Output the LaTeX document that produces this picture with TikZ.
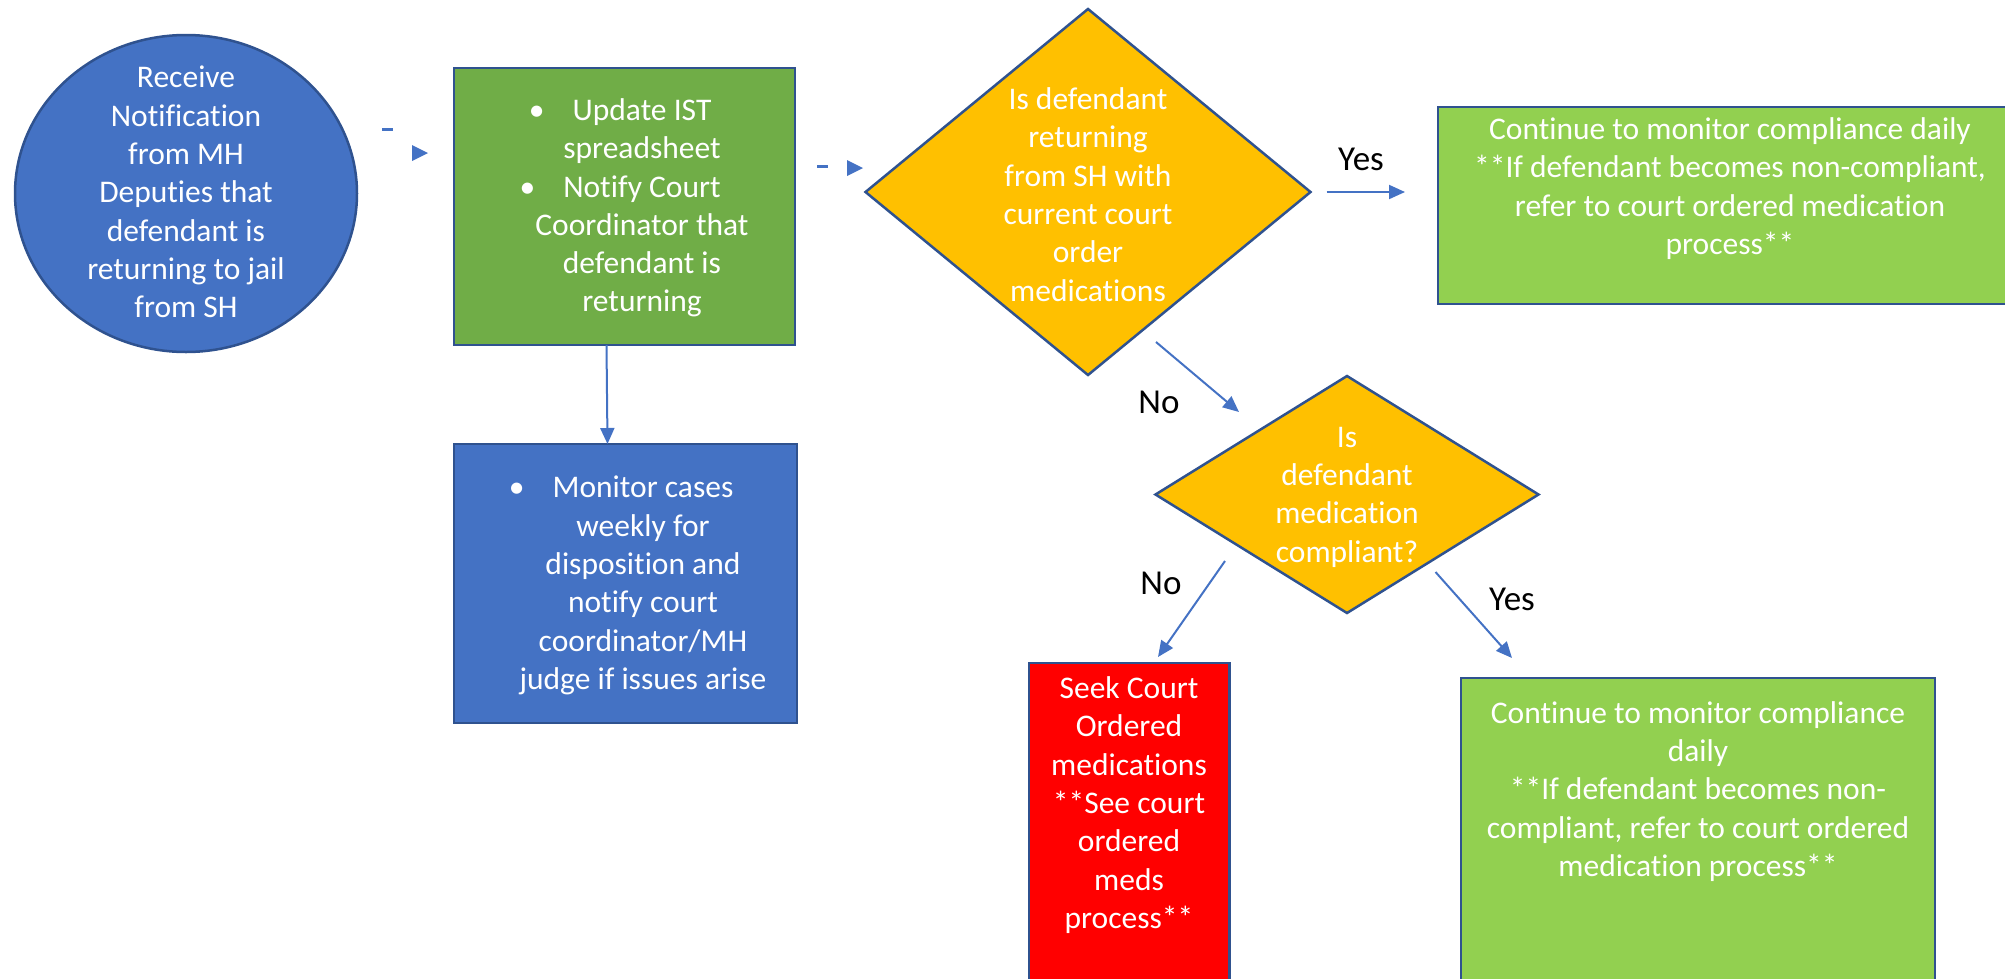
\documentclass[tikz,border=0pt]{standalone}
\usepackage{fontspec}
\setmainfont{Carlito}[Ligatures={NoCommon,NoContextual}]
\usetikzlibrary{shapes.geometric,arrows.meta}
\definecolor{cblue}{HTML}{4472C4}
\definecolor{cborder}{HTML}{2F528F}
\definecolor{cgreen}{HTML}{70AD47}
\definecolor{clime}{HTML}{92D050}
\definecolor{cgold}{HTML}{FFC000}
\definecolor{cred}{HTML}{FF0000}
\newcommand{\mybul}{\llap{\textbullet\hspace{28pt}}}
\begin{document}
\begin{tikzpicture}[x=1pt,y=-1pt,
  shp/.style={draw=cborder, line width=2.5pt, inner sep=0pt, outer sep=0pt},
  txt/.style={text=white, align=center, inner sep=0pt, font=\fontsize{31.5}{38.3}\selectfont},
  lbl/.style={text=black, inner sep=0pt, font=\fontsize{35}{40}\selectfont},
  conn/.style={draw=cblue, line width=2pt, -{Triangle[length=16pt,width=14pt]}},
  frag/.style={draw=cblue, line width=3pt},
  tipfrag/.style={fill=cblue}]
\useasboundingbox (0,0) rectangle (2005,978);

% shapes
\node[shp, fill=cblue, ellipse, minimum width=342, minimum height=317] (start) at (186,193.5) {};
\node[shp, fill=cgreen, minimum width=341, minimum height=277] (update) at (624.5,206.5) {};
\node[shp, fill=cblue, minimum width=343, minimum height=279] (monitor) at (625.5,583.5) {};
\node[shp, fill=cgold, diamond, minimum width=445, minimum height=366] (q1) at (1088,192) {};
\node[shp, fill=clime, minimum width=592, minimum height=197] (cont1) at (1734,205.5) {};
\node[shp, fill=cgold, diamond, minimum width=383, minimum height=237] (q2) at (1347,494.5) {};
\node[shp, fill=cred, minimum width=200.5, minimum height=337] (seek) at (1129,831.5) {};
\node[shp, fill=clime, minimum width=474, minimum height=322] (cont2) at (1698,839) {};

% texts
\node[txt] (starttxt) at (186,192) {Receive\\Notification\\from MH\\Deputies that\\defendant is\\returning to jail\\from SH};
\node[txt] (updatetxt) at (642,208) {\mybul Update IST\\spreadsheet\\\mybul Notify Court\\Coordinator that\\defendant is\\returning};
\node[txt] (monitortxt) at (643,585.5) {\mybul Monitor cases\\weekly for\\disposition and\\notify court\\coordinator/MH\\judge if issues arise};
\node[txt] (q1txt) at (1088,194.5) {Is defendant\\returning\\from SH with\\current court\\order\\medications};
\node[txt] (cont1txt) at (1730,188.5) {Continue to monitor compliance daily\\**If defendant becomes non-compliant,\\refer to court ordered medication\\process**};
\node[txt] (q2txt) at (1347,497) {Is\\defendant\\medication\\compliant?};
\node[txt] (seektxt) at (1129,805) {Seek Court\\Ordered\\medications\\**See court\\ordered\\meds\\process**};
\node[txt] (cont2txt) at (1698,791.5) {Continue to monitor compliance\\daily\\**If defendant becomes non-\\compliant, refer to court ordered\\medication process**};

% broken connector fragments (start -> update, update -> q1)
\coordinate (f1a) at (382,129);
\coordinate (f1b) at (393,129);
\draw[frag] (f1a) -- (f1b);
\fill[tipfrag] (412,145) -- (428,153) -- (412,161) -- cycle;
\coordinate (f2a) at (817,166);
\coordinate (f2b) at (828,166);
\draw[frag] (f2a) -- (f2b);
\fill[tipfrag] (847,160) -- (863,168) -- (847,176) -- cycle;

% connectors
\draw[conn] ([xshift=-18pt]update.south) -- ([xshift=-18pt]monitor.north);
\draw[conn] ([xshift=16pt]q1.east) -- ([xshift=-33pt]q1.east -| cont1.west);
\coordinate (n1s) at (1156,342);
\coordinate (n1e) at (1239,412);
\draw[conn] (n1s) -- (n1e);
\coordinate (n2s) at (1225,561);
\coordinate (n2e) at (1158,657);
\draw[conn] (n2s) -- (n2e);
\coordinate (y2s) at (1435.5,572);
\coordinate (y2e) at (1512,658);
\draw[conn] (y2s) -- (y2e);

% labels
\node[lbl] (yes1) at (1361,159) {Yes};
\node[lbl] (no1) at (1159,402) {No};
\node[lbl] (no2) at (1161,583) {No};
\node[lbl] (yes2) at (1512,599) {Yes};
\end{tikzpicture}
\end{document}
